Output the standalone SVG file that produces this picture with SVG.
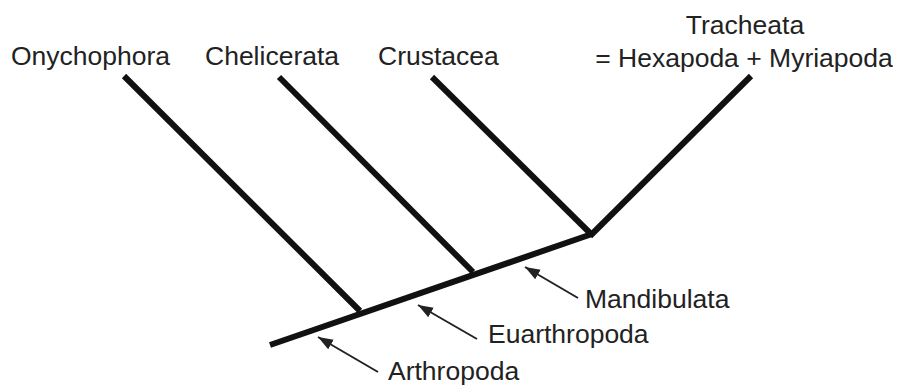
<svg xmlns="http://www.w3.org/2000/svg" width="905" height="386" viewBox="0 0 905 386">
<style>
.t{font-family:"Liberation Sans",Arial,sans-serif;font-size:26.5px;fill:#222}
.b{stroke:#111;stroke-width:6;fill:none;stroke-linecap:butt}
.a{stroke:#222;stroke-width:2;fill:none}
</style>
<defs>
<marker id="ah" viewBox="-15 -6 15 12" refX="0" refY="0" markerWidth="15" markerHeight="12" markerUnits="userSpaceOnUse" orient="auto">
<path d="M-15,-5.5 L0,0 L-15,5.5 Z" fill="#222"/>
</marker>
</defs>
<rect width="905" height="386" fill="#fff"/>
<g id="connectors">
<line class="b" x1="270" y1="345" x2="592" y2="234"/>
<line class="b" x1="124" y1="76" x2="360" y2="311"/>
<line class="b" x1="279" y1="77" x2="473" y2="272"/>
<line class="b" x1="432" y1="77" x2="592" y2="235"/>
<line class="b" x1="751" y1="76" x2="590" y2="236"/>
<path class="a" d="M378,372 L318,337" marker-end="url(#ah)"/>
<path class="a" d="M477,339 L418,305" marker-end="url(#ah)"/>
<path class="a" d="M578,298 L525,267" marker-end="url(#ah)"/>
</g>
<g id="onychophora"><text class="t" x="11" y="65">Onychophora</text></g>
<g id="chelicerata"><text class="t" x="205" y="65">Chelicerata</text></g>
<g id="crustacea"><text class="t" x="378" y="65">Crustacea</text></g>
<g id="tracheata"><text class="t" x="745" y="34" text-anchor="middle">Tracheata</text><text class="t" x="744" y="67" text-anchor="middle">= Hexapoda + Myriapoda</text></g>
<g id="mandibulata"><text class="t" x="585" y="308">Mandibulata</text></g>
<g id="euarthropoda"><text class="t" x="488" y="343">Euarthropoda</text></g>
<g id="arthropoda"><text class="t" x="388" y="380">Arthropoda</text></g>
</svg>
